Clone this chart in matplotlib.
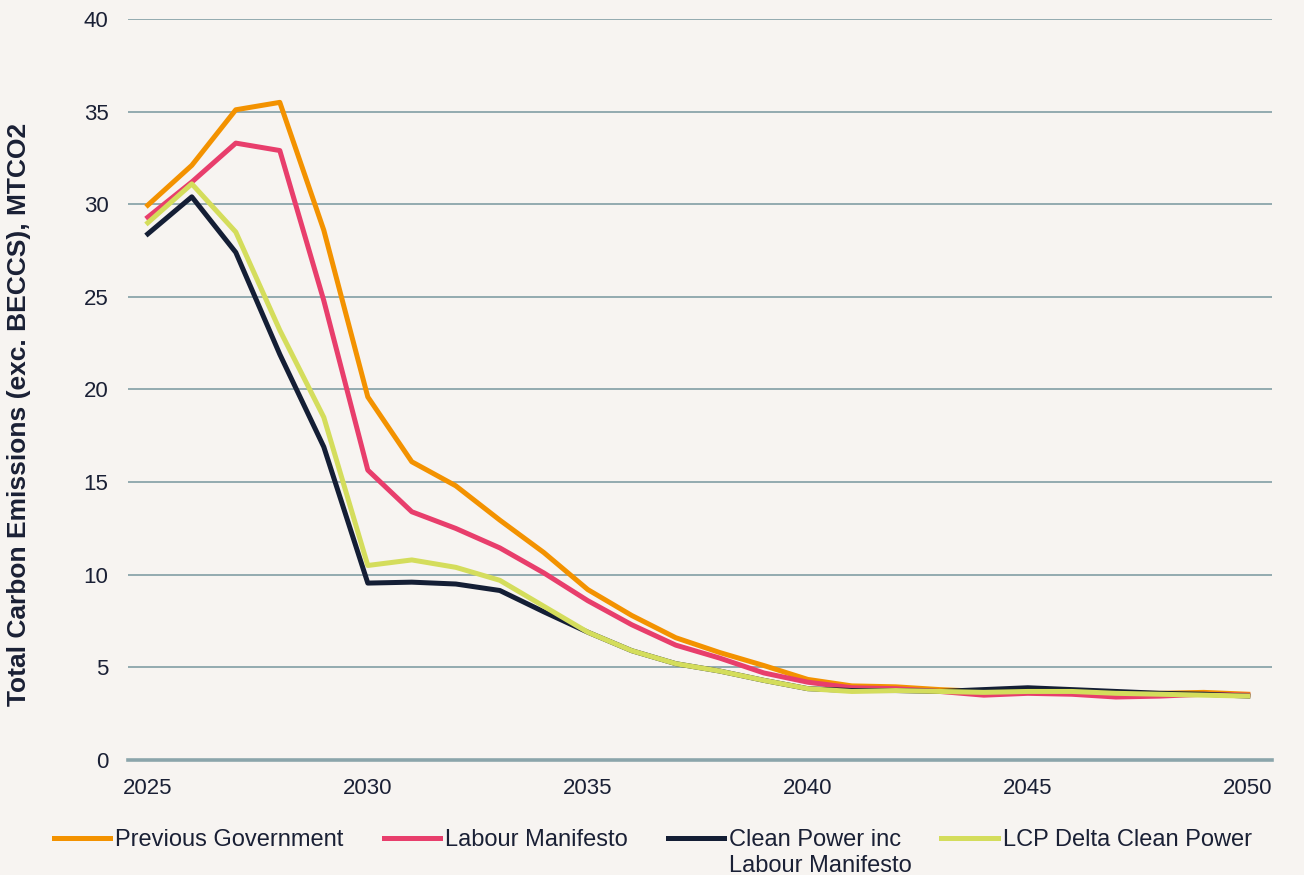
import numpy as np
import matplotlib.pyplot as plt

plt.rcParams['font.family'] = ['Liberation Sans', 'DejaVu Sans']

years = list(range(2025, 2051))

previous_gov = [29.95, 32.1, 35.1, 35.5, 28.6, 19.6, 16.1, 14.8, 12.95, 11.2,
                9.2, 7.8, 6.6, 5.8, 5.1, 4.35, 4.0, 3.95, 3.8, 3.7,
                3.7, 3.65, 3.6, 3.6, 3.65, 3.55]
labour = [29.3, 31.2, 33.3, 32.9, 24.8, 15.65, 13.4, 12.5, 11.45, 10.1,
          8.6, 7.3, 6.2, 5.5, 4.7, 4.2, 3.9, 3.85, 3.7, 3.5,
          3.6, 3.55, 3.4, 3.45, 3.55, 3.5]
clean_power = [28.4, 30.4, 27.4, 21.9, 16.9, 9.55, 9.6, 9.5, 9.15, 8.0,
               6.9, 5.9, 5.2, 4.8, 4.3, 3.85, 3.75, 3.75, 3.7, 3.8,
               3.9, 3.8, 3.7, 3.6, 3.55, 3.45]
lcp_delta = [29.0, 31.1, 28.5, 23.2, 18.5, 10.5, 10.8, 10.4, 9.7, 8.3,
             6.9, 5.9, 5.2, 4.8, 4.3, 3.85, 3.7, 3.75, 3.7, 3.65,
             3.7, 3.7, 3.6, 3.55, 3.5, 3.45]

series = [("Previous Government", previous_gov, "#F39200"),
          ("Labour Manifesto", labour, "#E83E6C"),
          ("Clean Power inc", clean_power, "#141E35"),
          ("LCP Delta Clean Power", lcp_delta, "#D4DD5C")]

bg = "#F7F4F1"
txt = "#1A2035"
grid = "#8BA5AB"

fig = plt.figure(figsize=(13.04, 8.75), dpi=100, facecolor=bg)
ax = fig.add_axes([128/1304, 1-760/875, (1272-128)/1304, (760-19)/875])
ax.set_facecolor(bg)

for name, vals, col in series:
    ax.plot(years, vals, color=col, lw=3.6, label=name)

ax.set_xlim(2024.55, 2050.55)
ax.set_ylim(0, 40)
ax.set_yticks(range(0, 41, 5))
ax.set_xticks(range(2025, 2051, 5))
ax.yaxis.grid(True, color=grid, lw=1.3)
ax.set_axisbelow(True)
for s in ['top', 'right', 'left']:
    ax.spines[s].set_visible(False)
ax.spines['bottom'].set_color(grid)
ax.spines['bottom'].set_linewidth(2.6)
ax.tick_params(axis='both', length=0, labelsize=16, colors=txt)
ax.tick_params(axis='x', pad=13)
ax.tick_params(axis='y', pad=14)
ax.set_ylabel("Total Carbon Emissions (exc. BECCS), MTCO2", fontsize=19,
              fontweight='bold', color=txt)
ax.yaxis.set_label_coords((31 - 128) / 1144, 0.467)

leg = fig.legend(loc='center left', bbox_to_anchor=(52/1304 - 0.006, 1 - 840/875), ncol=4,
                 frameon=False, fontsize=17, labelcolor=txt, handlelength=2.4,
                 handletextpad=0.2, columnspacing=1.7, borderaxespad=0)
# second line of the third legend label hangs below the first line
fig.canvas.draw()
ax.annotate("Labour Manifesto", xy=(0, 0), xycoords=leg.get_texts()[2],
            xytext=(0, -3), textcoords='offset points', va='top', ha='left',
            fontsize=17, color=txt, annotation_clip=False)

fig.savefig("out.png", dpi=100, facecolor=bg)
